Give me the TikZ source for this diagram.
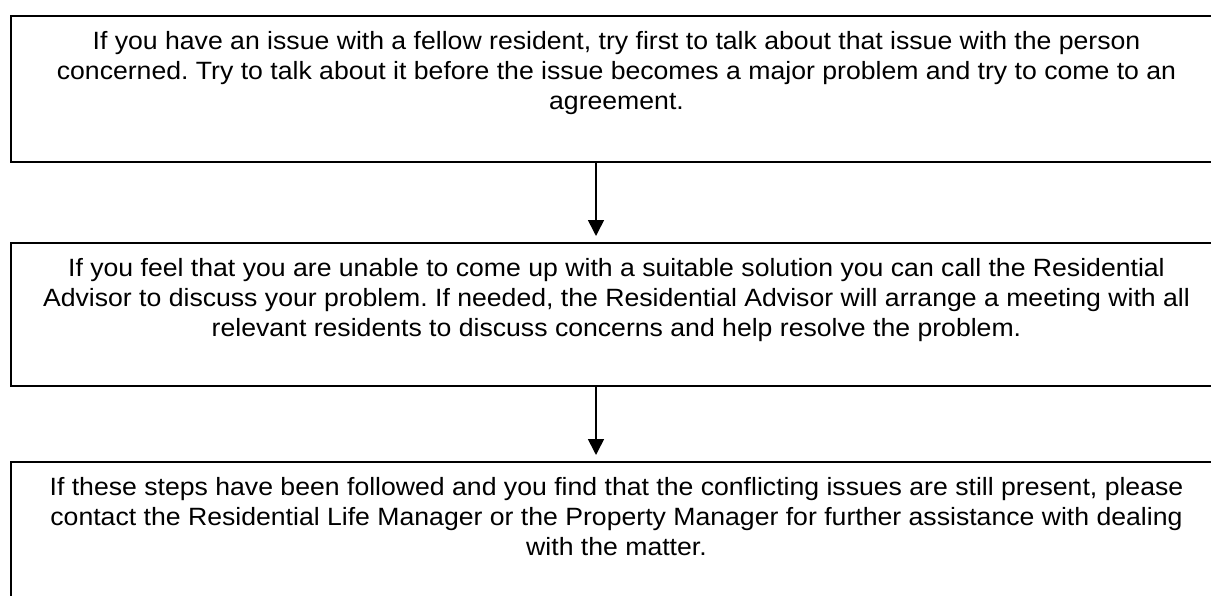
\documentclass[tikz,border=0pt]{standalone}
\usepackage{fontspec}
\setmainfont{Liberation Sans}[FakeStretch=1.065]
\usetikzlibrary{arrows.meta}
\frenchspacing
\begin{document}
\begin{tikzpicture}[x=1pt,y=-1pt,
  stepbox/.style={draw=black, line width=2pt, rectangle, inner sep=0pt, anchor=north west, minimum width=1240pt},
  txt/.style={font=\fontsize{25}{30}\selectfont, align=center, inner sep=0pt, anchor=north},
  arr/.style={line width=1.6pt, -{Triangle[width=16pt,length=16pt]}, shorten >=6pt}]
\useasboundingbox (0,0) rectangle (1211,595);
\clip (0,0) rectangle (1211,595);
\node[stepbox, minimum height=146pt] (b1) at (10,15) {};
\node[stepbox, minimum height=143pt] (b2) at (10,242) {};
\node[stepbox, minimum height=200pt] (b3) at (10,461) {};
\node[txt] (t1) at (616.5,31.5) {\frenchspacing If you have an issue with a fellow resident, try first to talk about that issue with the person\\concerned. Try to talk about it before the issue becomes a major problem and try to come to an\\agreement.};
\node[txt] (t2) at (616.5,258.5) {\frenchspacing If you feel that you are unable to come up with a suitable solution you can call the Residential\\Advisor to discuss your problem. If needed, the Residential Advisor will arrange a meeting with all\\relevant residents to discuss concerns and help resolve the problem.};
\node[txt] (t3) at (616.5,477.5) {\frenchspacing If these steps have been followed and you find that the conflicting issues are still present, please\\contact the Residential Life Manager or the Property Manager for further assistance with dealing\\with the matter.};
\coordinate (ax) at (596,0);
\draw[arr] (b1.south -| ax) -- (b2.north -| ax);
\draw[arr] (b2.south -| ax) -- (b3.north -| ax);
\end{tikzpicture}
\end{document}
